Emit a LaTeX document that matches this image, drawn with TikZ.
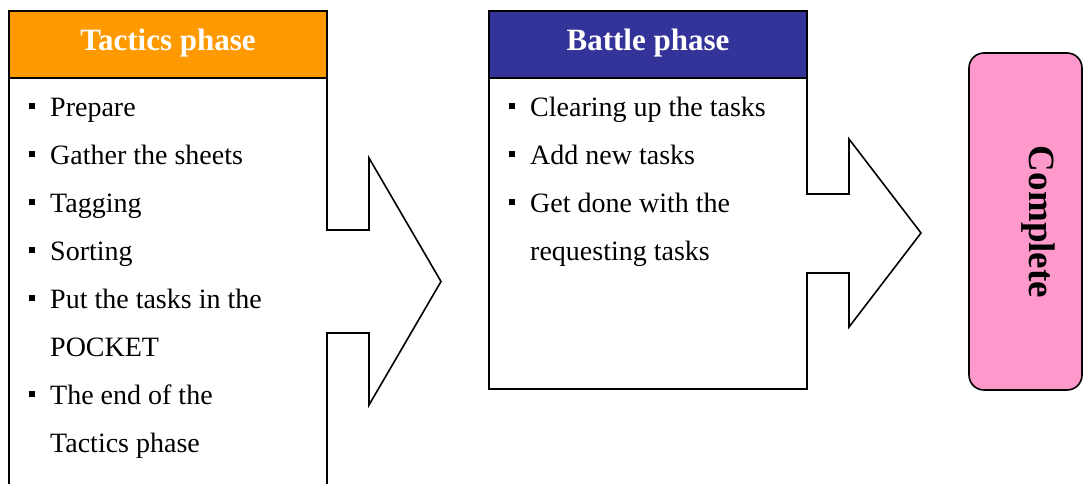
\documentclass[tikz,border=0pt]{standalone}
\usepackage{fontspec}
\setmainfont{Liberation Serif}
\definecolor{tacorange}{HTML}{FF9900}
\definecolor{batnavy}{HTML}{333399}
\definecolor{donepink}{HTML}{FF99CC}
\begin{document}
\begin{tikzpicture}[x=1pt,y=-1pt,
  frame/.style={draw=black, line width=1.6pt, fill=white, anchor=north west,
                inner sep=0pt, outer sep=0pt},
  panel/.style={frame, minimum width=318pt},
  header/.style={frame, minimum width=318pt, minimum height=67pt},
  headtext/.style={text=white, font=\fontsize{31}{36}\selectfont\bfseries,
                   anchor=base, inner sep=0pt},
  item/.style={font=\fontsize{28}{34}\selectfont, anchor=base west, inner sep=0pt},
  bullet/.style={fill=black, minimum size=5.5pt, inner sep=0pt, outer sep=0pt},
  blockarrow/.style={draw=black, line width=1.6pt, line join=miter}]
\clip (0,0) rectangle (1083,483);

% Tactics phase panel (runs past the lower edge)
\node[panel, minimum height=490pt] (tacbox) at (9,11) {};
\node[header, fill=tacorange] (tachead) at (9,11) {};
\node[headtext] (tactitle) at (168,50) {Tactics phase};

% Battle phase panel
\node[panel, minimum height=378pt] (batbox) at (489,11) {};
\node[header, fill=batnavy] (bathead) at (489,11) {};
\node[headtext] (battitle) at (648,50) {Battle phase};

% Completion box
\node[frame, fill=donepink, rounded corners=15pt, minimum width=113pt,
      minimum height=337pt] (done) at (969,53) {};
\node[rotate=-90, font=\fontsize{37}{42}\selectfont\bfseries, inner sep=0pt]
      (donetext) at (1038,222) {Complete};

% Block arrow from Tactics to Battle
\fill[white] (326,230.8) -- (369,230.8) -- (369,158) -- (441,281.5) -- (369,405)
  -- (369,332.2) -- (326,332.2) -- cycle;
\draw[blockarrow] (326.2,230) -- (369,230) -- (369,158) -- (441,281.5) -- (369,405)
  -- (369,333) -- (326.2,333);

% Block arrow from Battle to Complete
\fill[white] (806,194.8) -- (849,194.8) -- (849,139) -- (921,233) -- (849,327)
  -- (849,272.2) -- (806,272.2) -- cycle;
\draw[blockarrow] (806.2,194) -- (849,194) -- (849,139) -- (921,233) -- (849,327)
  -- (849,273) -- (806.2,273);

% Tactics phase items
\node[bullet] (tb1) at (32,106) {};
\node[item] (ti1) at (50,116) {Prepare};
\node[bullet] (tb2) at (32,154) {};
\node[item] (ti2) at (50,164) {Gather the sheets};
\node[bullet] (tb3) at (32,202) {};
\node[item] (ti3) at (50,212) {Tagging};
\node[bullet] (tb4) at (32,250) {};
\node[item] (ti4) at (50,260) {Sorting};
\node[bullet] (tb5) at (32,298) {};
\node[item] (ti5) at (50,308) {Put the tasks in the};
\node[item] (ti5b) at (50,356) {POCKET};
\node[bullet] (tb6) at (32,394) {};
\node[item] (ti6) at (50,404) {The end of the};
\node[item] (ti6b) at (50,452) {Tactics phase};

% Battle phase items
\node[bullet] (bb1) at (512,106) {};
\node[item] (bi1) at (530,116) {Clearing up the tasks};
\node[bullet] (bb2) at (512,154) {};
\node[item] (bi2) at (530,164) {Add new tasks};
\node[bullet] (bb3) at (512,202) {};
\node[item] (bi3) at (530,212) {Get done with the};
\node[item] (bi3b) at (530,260) {requesting tasks};
\end{tikzpicture}
\end{document}
